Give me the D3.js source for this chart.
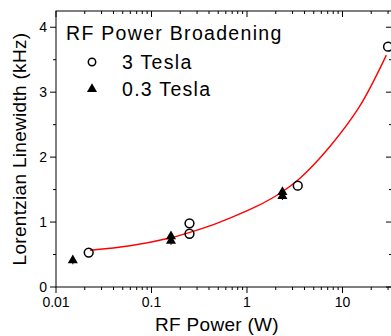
<!DOCTYPE html>
<html>
<head>
<meta charset="utf-8">
<script src="https://cdn.jsdelivr.net/npm/d3@7"></script>
<style>
  html, body { margin: 0; padding: 0; background: #fff; overflow: hidden; }
  svg { display: block; font-family: 'Liberation Sans', Arial, sans-serif; }
  .frame { stroke: #000; stroke-width: 1; fill: none; }
  .tick-label { font-size: 14px; fill: #000; }
  .axis-title { font-size: 19px; fill: #000; letter-spacing: 0.3px; }
  .legend-text { font-size: 19.5px; letter-spacing: 1.3px; fill: #000; }
</style>
</head>
<body>
<svg id="chart" width="391" height="336"></svg>
<script>
'use strict';

//data
const tesla3Power = [0.022, 0.25, 0.25, 3.4, 30];
const tesla3Width = [0.53, 0.98, 0.82, 1.56, 3.70];
const tesla03Power = [0.015, 0.16, 0.16, 2.35, 2.35];
const tesla03Width = [0.41, 0.78, 0.71, 1.46, 1.40];
const tesla03Err = [0.06, 0.06, 0.06, 0.06, 0.06];
//fit curve samples
const fitPower = [0.0227, 0.0595, 0.156, 0.252, 0.408, 0.66, 1.256, 2.2, 3.56, 7.35, 15.1, 28.8];
const fitWidth = [0.566, 0.635, 0.755, 0.84, 0.94, 1.06, 1.24, 1.44, 1.67, 2.16, 2.78, 3.57];
const xTicks = [0.01, 0.1, 1, 10];
const xTickLabels = ['0.01', '0.1', '1', '10'];
const yTicks = [0, 1, 2, 3, 4];
const legendLabels = ['3 Tesla', '0.3 Tesla'];

(() => {
  //dimensions
  const left = 56, right = 392, top = 11, bottom = 287;
  const x = d3.scaleLog().domain([0.01, 33]).range([left, right]);
  const y = d3.scaleLinear().domain([0, 4.25]).range([bottom, top]);
  const svg = d3.select('#chart');

  //minor log ticks
  const minorX = [];
  d3.range(-2, 2).forEach((e) => {
    d3.range(2, 10).forEach((m) => {
      const v = m * Math.pow(10, e);
      if (v <= 33) minorX.push(v);
    });
  });
  const minorY = d3.range(0.5, 4.25, 1);

  const ticks = svg.append('g').attr('stroke', '#000').attr('stroke-width', 1);
  //bottom axis - outward, top - inward
  xTicks.forEach((t) => {
    ticks.append('line').attr('x1', x(t)).attr('x2', x(t)).attr('y1', bottom).attr('y2', bottom + 6);
    ticks.append('line').attr('x1', x(t)).attr('x2', x(t)).attr('y1', top).attr('y2', top + 6);
  });
  minorX.forEach((t) => {
    ticks.append('line').attr('x1', x(t)).attr('x2', x(t)).attr('y1', bottom).attr('y2', bottom + 3);
    ticks.append('line').attr('x1', x(t)).attr('x2', x(t)).attr('y1', top).attr('y2', top + 3);
  });
  //left axis - outward, right axis - inward
  yTicks.forEach((t) => {
    ticks.append('line').attr('x1', left - 6).attr('x2', left).attr('y1', y(t)).attr('y2', y(t));
    ticks.append('line').attr('x1', right - 6).attr('x2', right).attr('y1', y(t)).attr('y2', y(t));
  });
  minorY.forEach((t) => {
    ticks.append('line').attr('x1', left - 3).attr('x2', left).attr('y1', y(t)).attr('y2', y(t));
    ticks.append('line').attr('x1', right - 3).attr('x2', right).attr('y1', y(t)).attr('y2', y(t));
  });

  svg.append('rect')
    .attr('x', left).attr('y', top)
    .attr('width', right - left).attr('height', bottom - top)
    .attr('class', 'frame');

  //tick labels
  xTicks.forEach((t, i) => {
    svg.append('text')
      .attr('x', x(t)).attr('y', bottom + 20)
      .attr('text-anchor', 'middle')
      .attr('class', 'tick-label')
      .text(xTickLabels[i]);
  });
  yTicks.forEach((t) => {
    svg.append('text')
      .attr('x', left - 9).attr('y', y(t) + 5)
      .attr('text-anchor', 'end')
      .attr('class', 'tick-label')
      .text(t);
  });

  //titles
  svg.append('text')
    .attr('x', 217).attr('y', 331)
    .attr('text-anchor', 'middle')
    .attr('class', 'axis-title')
    .text('RF Power (W)');
  svg.append('text')
    .attr('transform', `translate(26, ${(top + bottom) / 2}) rotate(-90)`)
    .attr('text-anchor', 'middle')
    .attr('class', 'axis-title')
    .attr('font-size', '20px')
    .text('Lorentzian Linewidth (kHz)');

  //fit curve
  const line = d3.line()
    .x((d, i) => x(fitPower[i]))
    .y((d) => y(d))
    .curve(d3.curveCatmullRom);
  svg.append('path')
    .datum(fitWidth)
    .attr('d', line)
    .attr('fill', 'none')
    .attr('stroke', '#ff0000')
    .attr('stroke-width', 1.4);

  const tri = d3.symbol().type(d3.symbolTriangle).size(44);

  //0.3 Tesla triangles with error bars
  tesla03Power.forEach((p, i) => {
    svg.append('line')
      .attr('x1', x(p)).attr('x2', x(p))
      .attr('y1', y(tesla03Width[i] - tesla03Err[i]))
      .attr('y2', y(tesla03Width[i] + tesla03Err[i]))
      .attr('stroke', '#000').attr('stroke-width', 1);
    svg.append('path')
      .attr('d', tri)
      .attr('transform', `translate(${x(p)}, ${y(tesla03Width[i])})`)
      .attr('fill', '#000');
  });

  //3 Tesla circles
  tesla3Power.forEach((p, i) => {
    svg.append('circle')
      .attr('cx', x(p)).attr('cy', y(tesla3Width[i]))
      .attr('r', 4.4)
      .attr('fill', 'none')
      .attr('stroke', '#000')
      .attr('stroke-width', 1.5);
  });

  //legend
  svg.append('text')
    .attr('x', 66).attr('y', 40)
    .attr('class', 'legend-text')
    .text('RF Power Broadening');
  legendLabels.forEach((lab, i) => {
    const ly = 62 + i * 27;
    if (i === 0) {
      svg.append('circle')
        .attr('cx', 92).attr('cy', ly).attr('r', 3.7)
        .attr('fill', 'none').attr('stroke', '#000').attr('stroke-width', 1.5);
    } else {
      svg.append('path')
        .attr('d', tri)
        .attr('transform', `translate(92, ${ly})`)
        .attr('fill', '#000');
    }
    svg.append('text')
      .attr('x', 122).attr('y', ly + 6.5)
      .attr('class', 'legend-text')
      .text(lab);
  });
})();
</script>
</body>
</html>
